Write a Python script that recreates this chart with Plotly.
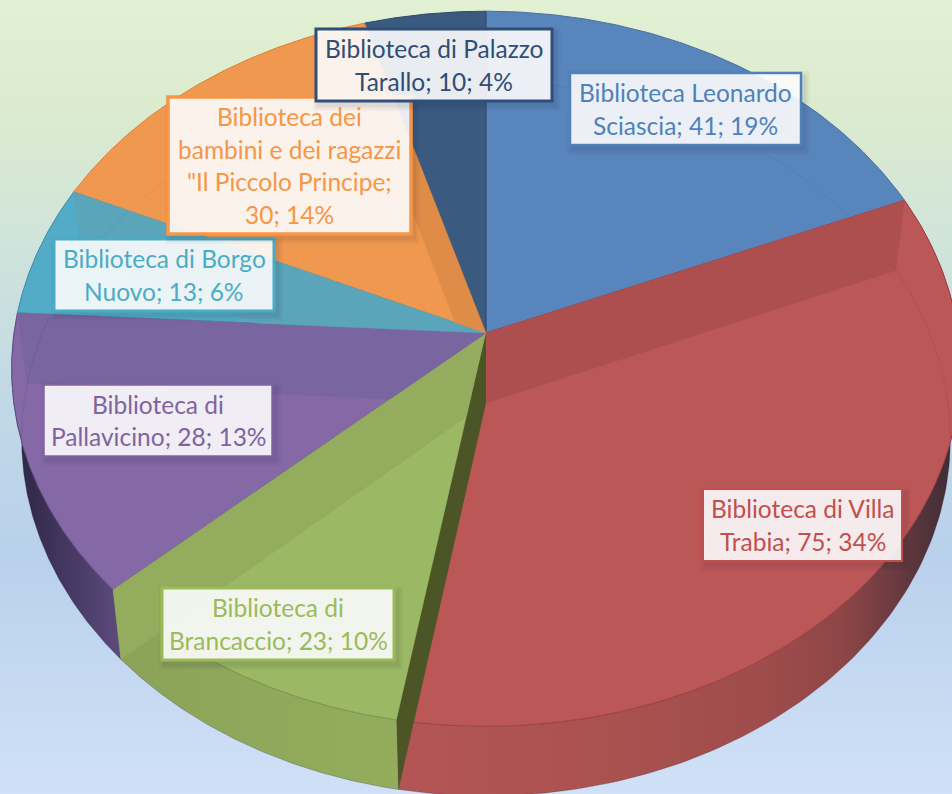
import numpy as np
import plotly.graph_objects as go

# ---------- data ----------
categories = ["Biblioteca Leonardo Sciascia", "Biblioteca di Villa Trabia", "Biblioteca di Brancaccio",
              "Biblioteca di Pallavicino", "Biblioteca di Borgo Nuovo",
              "Biblioteca dei bambini e dei ragazzi \"Il Piccolo Principe", "Biblioteca di Palazzo Tarallo"]
values = [41, 75, 23, 28, 13, 30, 10]
percents = [19, 34, 10, 13, 6, 14, 4]
label_lines = [
    ["Biblioteca Leonardo", "Sciascia; 41; 19%"],
    ["Biblioteca di Villa", "Trabia; 75; 34%"],
    ["Biblioteca di", "Brancaccio; 23; 10%"],
    ["Biblioteca di", "Pallavicino; 28; 13%"],
    ["Biblioteca di Borgo", "Nuovo; 13; 6%"],
    ["Biblioteca dei", "bambini e dei ragazzi", "\"Il Piccolo Principe;", "30; 14%"],
    ["Biblioteca di Palazzo", "Tarallo; 10; 4%"],
]

# ---------- style / layout ----------
W, H = 952, 794
CX, CY, A, B, K, SHRINK, DEPTH = 486, 333, 472, 354, 0.10, 0.979, 70
top_colors = ["#5985bd", "#bc5757", "#9bb964", "#8569a6", "#52acc8", "#f0984f", "#3a5a80"]
band_colors = [None, "#ae4f4f", "#93ac5d", "#7965a0", "#5aa5ba", "#de8c47", None]
edge_colors = ["#4a6f9f", "#a23f3f", "#7f9a47", "#5f4d85", "#3f8aa5", "#d98238", "#2f4a6a"]
text_colors = ["#4f81bd", "#c0504d", "#9bbb59", "#8064a2", "#4bacc6", "#f79646", "#2f4d75"]
box_edges = ["#4f81bd", "#c0504d", "#9bbb59", "#8064a2", "#4bacc6", "#f79646", "#2f4f7a"]
box_widths = [2.5, 2, 3, 1.5, 3, 3.5, 3]
# x0, x1, y0, y1 of the label boxes
boxes = [(570, 801, 73, 145), (703, 902, 489, 561), (162, 394, 588, 660), (44, 272, 385, 456),
         (54, 274, 239, 311), (168, 411, 97, 234), (316, 552, 29, 101)]
LINE_PITCH = 32.5
FONT = "Lato"
FONT_SIZE = 24.5
bg_scale = [[0, "#e2f0d4"], [0.12, "#ddecce"], [0.3, "#d0e4da"], [0.5, "#c1d9e6"],
            [0.7, "#b9d0ec"], [1, "#d0e1f7"]]
side_scales = {
    1: (400, 952, [[0, "#b45555"], [0.36, "#aa5250"], [0.65, "#a04c4c"], [0.8, "#8f4646"],
                   [0.9, "#6a3a40"], [1, "#3e2c34"]]),
    2: (120, 400, [[0, "#8ba358"], [1, "#93ad5d"]]),
    3: (12, 125, [[0, "#2a2540"], [0.4, "#40345c"], [1, "#5f4c80"]]),
}
WEDGE_COLOR = "#4b5526"

# ---------- geometry ----------
shares = np.array(values, float) / sum(values)
bounds = np.concatenate([[0], np.cumsum(shares) * 360])


def top(theta, r=1.0):
    t = np.radians(theta)
    u, v = r * np.sin(t), r * np.cos(t)
    d = 1 + K * v
    return CX + A * u / d, CY - B * v / d


def bot(theta, r=1.0):
    t = np.radians(theta)
    u, v = r * np.sin(t), r * np.cos(t)
    d = 1 + K * v
    return CX + SHRINK * A * u / d, CY - SHRINK * B * v / d + DEPTH / d


def cross(a, b):
    return a[0] * b[1] - a[1] * b[0]


def clip_half(poly, f):
    out = []
    for i in range(len(poly)):
        p, q = poly[i], poly[(i + 1) % len(poly)]
        fp, fq = f(p), f(q)
        if fp >= 0:
            out.append(p)
        if fp * fq < 0:
            s = fp / (fp - fq)
            out.append((p[0] + s * (q[0] - p[0]), p[1] + s * (q[1] - p[1])))
    return out


def wedge_funcs(i):
    a = np.subtract(top(bounds[i]), (CX, CY))
    b = np.subtract(top(bounds[i + 1]), (CX, CY))
    return (lambda p: cross(a, (p[0] - CX, p[1] - CY)),
            lambda p: cross((p[0] - CX, p[1] - CY), b))


def slice_of(p):
    for i in range(len(values)):
        f, g = wedge_funcs(i)
        if f(p) >= 0 and g(p) >= 0:
            return i
    return None


def inside_top(p):
    uu, vv = (p[0] - CX) / A, -(p[1] - CY) / B
    dn = 1 - K * vv
    return (uu / dn) ** 2 + (vv / dn) ** 2 < 1


fig = go.Figure()
# background
fig.add_trace(go.Scatter(x=[0, W, W, 0, 0], y=[0, 0, H, H, 0], mode="lines", line=dict(width=0),
                         fill="toself", fillgradient=dict(type="vertical", colorscale=bg_scale, start=0, stop=H),
                         hoverinfo="skip"))

# side walls
for i in (1, 2, 3):
    th = np.linspace(bounds[i], bounds[i + 1], 120)
    xt, yt = top(th)
    xb, yb = bot(th)
    x0, x1, scale = side_scales[i]
    fig.add_trace(go.Scatter(x=np.r_[xt, xb[::-1], xt[0]], y=np.r_[yt, yb[::-1], yt[0]], mode="lines",
                             line=dict(width=0.8, color="rgba(60,40,60,0.35)"), fill="toself",
                             fillgradient=dict(type="horizontal", colorscale=scale, start=x0, stop=x1),
                             hoverinfo="skip"))

# top faces
for i in range(len(values)):
    th = np.linspace(bounds[i], bounds[i + 1], 160)
    xt, yt = top(th)
    fig.add_trace(go.Scatter(x=np.r_[CX, xt, CX], y=np.r_[CY, yt, CY], mode="lines",
                             line=dict(width=1, color=edge_colors[i]), fill="toself",
                             fillcolor=top_colors[i], hoverinfo="skip", name=categories[i]))

# inner walls seen through the translucent top
for i, b_idx in {1: 1, 2: 3, 3: 4, 4: 5, 5: 6}.items():
    th = bounds[b_idx]
    poly = [(CX, CY), top(th), bot(th), (CX, CY + DEPTH)]
    f, g = wedge_funcs(i)
    poly = clip_half(clip_half(poly, f), g)
    if poly:
        xs, ys = zip(*(poly + poly[:1]))
        fig.add_trace(go.Scatter(x=xs, y=ys, mode="lines", line=dict(width=0.5, color=band_colors[i]),
                                 fill="toself", fillcolor=band_colors[i], hoverinfo="skip"))

# far rim of the lower disc seen through the top
th_all = np.arange(0, 360, 0.5)
for i in range(len(values)):
    xs, ys = [], []
    for th in th_all:
        p = bot(th)
        if inside_top(p) and slice_of(p) == i:
            xs.append(p[0]); ys.append(p[1])
        elif xs and xs[-1] is not None:
            xs.append(None); ys.append(None)
    fig.add_trace(go.Scatter(x=xs, y=ys, mode="lines", line=dict(width=1, color=edge_colors[i]),
                             opacity=0.3, hoverinfo="skip"))

# dark inner wall of the green slice
p_t, p_b = top(bounds[2]), bot(bounds[2])
fig.add_trace(go.Scatter(x=[CX, p_t[0], p_b[0], CX, CX], y=[CY, p_t[1], p_b[1], CY + DEPTH, CY], mode="lines",
                         line=dict(width=0), fill="toself", fillcolor=WEDGE_COLOR, hoverinfo="skip"))

# labels
shapes, annotations = [], []
for i, (x0, x1, y0, y1) in enumerate(boxes):
    for grow, alpha in ((6, 0.03), (4, 0.04), (2, 0.05)):
        shapes.append(dict(type="rect", xref="x", yref="y", x0=x0 - grow + 3, x1=x1 + grow + 3,
                           y0=y0 - grow + 4, y1=y1 + grow + 4, line=dict(width=0),
                           fillcolor=f"rgba(30,30,50,{alpha})", layer="above"))
    shapes.append(dict(type="rect", xref="x", yref="y", x0=x0, x1=x1, y0=y0, y1=y1,
                       line=dict(width=box_widths[i], color=box_edges[i]),
                       fillcolor="rgba(255,255,255,0.89)", layer="above"))
    lines = label_lines[i]
    yc = (y0 + y1) / 2
    xc = (x0 + x1) / 2
    for j, s in enumerate(lines):
        annotations.append(dict(x=xc, y=yc + (j - (len(lines) - 1) / 2) * LINE_PITCH, xref="x", yref="y",
                                text=s, showarrow=False, xanchor="center", yanchor="middle",
                                font=dict(family=FONT, size=FONT_SIZE, color=text_colors[i])))

fig.update_layout(width=W, height=H, margin=dict(l=0, r=0, t=0, b=0), showlegend=False,
                  paper_bgcolor="#d0e4da", plot_bgcolor="#d0e4da", shapes=shapes, annotations=annotations,
                  xaxis=dict(range=[0, W], visible=False, fixedrange=True),
                  yaxis=dict(range=[H, 0], visible=False, fixedrange=True))
fig.write_html("out.html", config=dict(displayModeBar=False),
               post_script="document.body.style.margin='0';document.body.style.overflow='hidden';")
